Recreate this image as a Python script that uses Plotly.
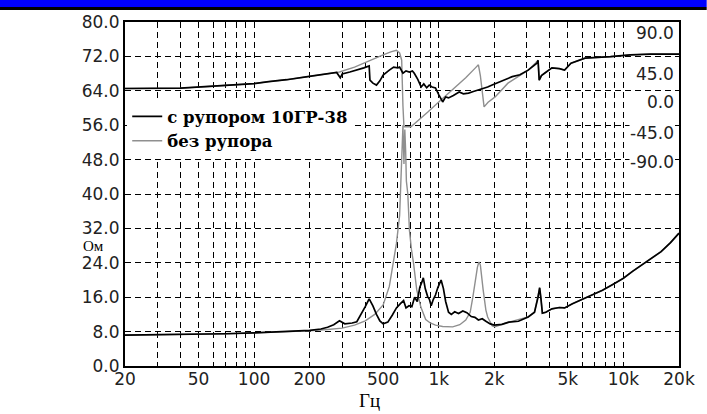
import plotly.graph_objects as go

# ---- data: impedance (Ohm) ----
f_gray = [20, 30, 50, 70, 100, 150, 200, 250, 300, 350, 400, 450, 500, 540, 560, 590, 614, 630, 640,
          648, 655, 662, 668, 680, 694, 712, 730, 760, 800, 850, 900, 960, 1050, 1190, 1300, 1400,
          1480, 1530, 1580, 1620, 1650, 1680, 1740, 1800, 1840, 1950, 2020, 2300, 2600, 3050, 3300,
          3450, 3520, 3580, 3640, 3800, 4100, 4500, 4800, 5300, 6100, 7000, 7700, 8800, 10000, 11200,
          12600, 14200, 16000, 18000, 20000]
z_gray = [7.2, 7.25, 7.35, 7.5, 7.7, 7.95, 8.2, 8.5, 8.8, 9.5, 10.5, 12.0, 14.2, 18.5, 22.5, 28.5, 35,
          50, 56, 47, 55, 50, 43, 40, 31.5, 27, 24, 17.7, 13.7, 10.8, 10, 9.5, 9.2, 9.1, 9.6, 10.7,
          12.5, 16, 20, 23, 24.2, 23.5, 17.7, 13, 11.4, 9.3, 9.1, 10, 10.6, 11.4, 12.5,
          16, 18.2, 15.5, 12.3, 12.5, 13.3, 13.6, 13.5, 14.5, 15.7, 16.7, 17.6, 19, 20.4, 22,
          23.5, 25, 26.6, 28.7, 30.9]

f_black = [20, 30, 50, 70, 100, 150, 200, 230, 250, 270, 290, 310, 340, 360, 380, 400, 420, 440, 460,
           480, 500, 530, 560, 590, 620, 645, 665, 690, 715, 740, 765, 790, 810, 825, 845, 870, 890,
           910, 935, 960, 990, 1030, 1060, 1090, 1130, 1170, 1220, 1280, 1350, 1420, 1500, 1570,
           1640, 1720, 1800, 1900, 2000, 2200, 2400, 2700, 3050, 3300, 3450, 3520, 3580, 3640, 3800,
           4100, 4500, 4800, 5300, 6100, 7000, 7700, 8800, 10000, 11200, 12600, 14200, 16000, 18000,
           20000]
z_black = [7.2, 7.25, 7.35, 7.5, 7.7, 7.95, 8.3, 8.6, 9.0, 9.6, 10.5, 9.8, 10.0, 10.3, 12.0, 13.8, 15.6,
           14, 12, 10.5, 9.8, 10.2, 11.8, 13.5, 14.5, 15.2, 13.5, 14.0, 13.8, 16, 15, 18.3, 19.5, 20.5,
           18, 16.2, 15.5, 14, 15.5, 16.5, 18.3, 20, 18, 15, 12.5, 12, 12.6, 12.2, 12.8, 12.4, 11.5,
           11.3, 10.7, 11, 10.4, 9.8, 9.5, 9.7, 10.2, 10.4, 11.4, 12.5, 16, 18.2, 15.5, 12.3, 12.5,
           13.3, 13.6, 13.5, 14.5, 15.7, 16.7, 17.6, 19, 20.4, 22, 23.5, 25, 26.6, 28.7, 30.9]

# ---- data: phase (degrees) ----
fp_gray = [20, 40, 60, 100, 120, 150, 195, 250, 290, 350, 393, 450, 500, 550, 590, 614, 630, 640, 648,
           707, 785, 870, 1000, 1120, 1240, 1400, 1580, 1640, 1680, 1720, 1760, 1850, 2020, 2370,
           2700, 3050, 3330, 3450, 3500, 3600, 3740, 4100, 4500, 4800, 5200, 6200, 8500, 10900,
           14000, 20000]
ph_gray = [3, 3.5, 6, 9.5, 12, 14.5, 18.5, 22, 24.6, 31, 36.4, 42, 47, 51, 53, 49.5, 40, -20, -47,
           -47, -38, -28, -14.6, -4, 5, 17, 30, 34, 20, -5, -21, -15, -8, 10,
           19, 27, 36, 40, 14, 20, 23, 30, 29, 27, 36, 42.8, 44.6, 47,
           48, 48]

fp_black = [20, 40, 60, 100, 120, 150, 195, 250, 280, 293, 300, 330, 360, 393, 420, 424, 440, 460, 480,
            500, 540, 570, 600, 614, 640, 665, 694, 720, 737, 770, 803, 830, 860, 888, 920, 960,
            1000, 1050, 1090, 1130, 1200, 1290, 1360, 1450, 1540, 1640, 1740, 1840, 1960, 2100,
            2300, 2500, 2750, 3050, 3400, 3450, 3500, 3600, 3740, 4100, 4500, 4800, 5200, 6200,
            8500, 10900, 14000, 20000]
ph_black = [3, 3.5, 6, 9.5, 12, 14.5, 18.5, 22, 24, 17, 22, 24.6, 27, 30, 32.5, 14, 10, 7.5, 13,
            20.6, 27, 31, 30, 31, 23, 26, 24.6, 26, 23, 15, 5, 9, 4, 7.5, 5, 3.7,
            -5, -14.6, -8, -9.3, -6, -1.6, -4, -3, -1, 1, 3, 5, 8, 11,
            14, 18.5, 21, 27, 36, 40, 14, 20, 23, 30, 29, 27, 36, 42.8,
            44.6, 47, 48, 48]

x_tickvals = [20, 50, 100, 200, 500, 1000, 2000, 5000, 10000, 20000]
x_ticktext = ["20", "50", "100", "200", "500", "1k", "2k", "5k", "10k", "20k"]
x_minor = [30, 40, 60, 70, 80, 90, 300, 400, 600, 700, 800, 900, 3000, 4000, 6000, 7000, 8000, 9000]
y_tickvals = [0, 8, 16, 24, 32, 40, 48, 56, 64, 72, 80]
phase_labels = ["90.0", "45.0", "0.0", "-45.0", "-90.0"]

names = ["с рупором 10ГР-38", "без рупора"]
GRAY = "#8f8f8f"

fig = go.Figure()
fig.add_trace(go.Scatter(x=f_gray, y=z_gray, mode="lines", name=names[1], legendrank=2,
                         legendgroup="g", line=dict(color=GRAY, width=1.4)))
fig.add_trace(go.Scatter(x=fp_gray, y=ph_gray, mode="lines", yaxis="y2", showlegend=False,
                         legendgroup="g", line=dict(color=GRAY, width=1.4)))
fig.add_trace(go.Scatter(x=f_black, y=z_black, mode="lines", name=names[0], legendrank=1,
                         legendgroup="b", line=dict(color="black", width=1.7)))
fig.add_trace(go.Scatter(x=fp_black, y=ph_black, mode="lines", yaxis="y2", showlegend=False,
                         legendgroup="b", line=dict(color="black", width=1.7)))

tickfont = dict(family="DejaVu Sans", size=17, color="#222222")
grid = dict(showgrid=True, gridcolor="black", gridwidth=1, griddash="6px,4px")

fig.update_layout(
    width=707, height=414,
    margin=dict(l=125, r=19, t=22, b=48),
    paper_bgcolor="white", plot_bgcolor="white",
    xaxis=dict(type="log", range=[1.30103, 4.30103], tickvals=x_tickvals, ticktext=x_ticktext,
               tickfont=tickfont, ticks="", ticklabelstandoff=-3,
               showline=True, linecolor="black", linewidth=2,
               mirror=True, zeroline=False,
               minor=dict(tickvals=x_minor, showgrid=True, gridcolor="black", gridwidth=1,
                          griddash="6px,4px", ticks=""),
               **grid),
    yaxis=dict(range=[0, 80], tickvals=y_tickvals, tickformat=".1f", tickfont=tickfont, ticks="",
               showline=True, linecolor="black", linewidth=2, mirror=True, zeroline=False,
               **grid),
    yaxis2=dict(overlaying="y", range=[-360, 90], visible=False),
    showlegend=True,
    legend=dict(x=0.004, y=0.776, xanchor="left", yanchor="top", bgcolor="white",
                borderwidth=0, font=dict(family="DejaVu Serif", size=16.5, color="black",
                                         weight="bold"),
                tracegroupgap=0, itemwidth=30),
)

# right-hand phase scale labels
label_tops = [80.0, 70.5, 63.9, 56.7, 49.9]
for txt, yt in zip(phase_labels, label_tops):
    fig.add_annotation(text=txt, xref="paper", x=1, xanchor="right", xshift=-4,
                       yref="y", y=yt, yanchor="top", showarrow=False,
                       font=tickfont, bgcolor="white", borderpad=0)

# axis unit labels
fig.add_annotation(text="Ом", xref="paper", yref="paper", x=-0.057, y=0.35,
                   xanchor="center", yanchor="middle", showarrow=False,
                   font=dict(family="Liberation Serif", size=15, color="black"))
fig.add_annotation(text="Гц", xref="paper", yref="paper", x=0.442, y=-0.099,
                   xanchor="center", yanchor="middle", showarrow=False,
                   font=dict(family="Liberation Serif", size=19, color="black"))

# title bar strip at the top of the window
fig.add_shape(type="rect", xref="paper", yref="paper", x0=-0.25, x1=1.05,
              y0=1 + 15 / 344, y1=1 + 23 / 344, fillcolor="#0000ff", line_width=0, layer="above")
fig.add_shape(type="rect", xref="paper", yref="paper", x0=-0.25, x1=1.05,
              y0=1 + 12 / 344, y1=1 + 15 / 344, fillcolor="black", line_width=0, layer="above")

fig.write_html("out.html", config={"displayModeBar": False},
               post_script="document.body.style.margin='0';")
